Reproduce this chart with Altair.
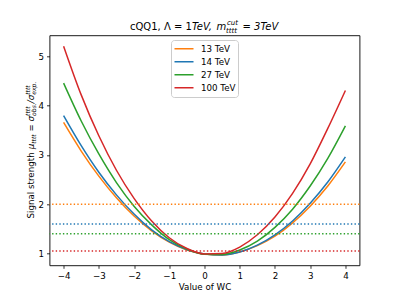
import altair as alt
import pandas as pd

# ---- data ----
wc = [-4.0, -3.5, -3.0, -2.5, -2.0, -1.5, -1.0, -0.5, 0.0, 0.5, 1.0, 1.5, 2.0, 2.5, 3.0, 3.5, 4.0]
mu_13 = [3.66, 3.08, 2.57, 2.13, 1.76, 1.46, 1.23, 1.07, 0.99, 0.97, 1.03, 1.16, 1.35, 1.62, 1.96, 2.37, 2.86]
mu_14 = [3.80, 3.19, 2.65, 2.19, 1.80, 1.48, 1.24, 1.08, 0.99, 0.97, 1.03, 1.17, 1.38, 1.66, 2.02, 2.45, 2.96]
mu_27 = [4.46, 3.69, 3.02, 2.44, 1.96, 1.58, 1.28, 1.09, 0.985, 0.98, 1.07, 1.25, 1.53, 1.90, 2.37, 2.93, 3.59]
mu_100 = [5.21, 4.22, 3.39, 2.69, 2.12, 1.66, 1.32, 1.10, 0.99, 1.00, 1.13, 1.38, 1.74, 2.22, 2.82, 3.54, 4.31]

series = ["13 TeV", "14 TeV", "27 TeV", "100 TeV"]
colors = ["#ff7f0e", "#1f77b4", "#2ca02c", "#d62728"]
limits = [2.0, 1.6, 1.4, 1.05]

x_ticks = [-4, -3, -2, -1, 0, 1, 2, 3, 4]
y_ticks = [1, 2, 3, 4, 5]

rows = []
for name, vals in zip(series, [mu_13, mu_14, mu_27, mu_100]):
    for xv, yv in zip(wc, vals):
        rows.append({"wc": xv, "mu": yv, "energy": name})
df = pd.DataFrame(rows)
df_lim = pd.DataFrame({"limit": limits, "energy": series})

FONT = "DejaVu Sans"
W, H = 310, 230
OX, OY = 49.5, 35.3  # plot origin on page

color_scale = alt.Scale(domain=series, range=colors)

lines = alt.Chart(df).mark_line(strokeWidth=1.5, interpolate="monotone").encode(
    x=alt.X("wc:Q", scale=alt.Scale(domain=[-4.4, 4.4], nice=False, zero=False),
            axis=alt.Axis(values=x_ticks, title="Value of WC",
                          labelExpr="datum.value < 0 ? '\u2212' + format(abs(datum.value), 'd') : format(datum.value, 'd')")),
    y=alt.Y("mu:Q", scale=alt.Scale(domain=[0.76, 5.43], nice=False, zero=False),
            axis=alt.Axis(values=y_ticks, title=None, format="d")),
    color=alt.Color("energy:N", scale=color_scale, sort=series,
                    legend=alt.Legend(title=None, orient="none", legendX=121.5, legendY=4.7,
                                      symbolType="stroke", symbolSize=361, symbolStrokeWidth=1.5,
                                      labelFont=FONT, labelFontSize=8.7, labelColor="#000",
                                      labelOffset=6.5, clipHeight=12.5, rowPadding=0,
                                      padding=2.5, strokeColor="#cccccc",
                                      fillColor="rgba(255,255,255,0.8)", cornerRadius=3)),
    detail="energy:N",
)

rules = alt.Chart(df_lim).mark_rule(strokeWidth=1.4, strokeDash=[1.4, 2.2]).encode(
    y="limit:Q",
    color=alt.Color("energy:N", scale=color_scale, legend=None),
)

def txt(text, x, y, size, italic=False, angle=0):
    kw = dict(text=text, align="left", baseline="alphabetic", font=FONT,
              fontSize=size, color="#000")
    if italic:
        kw["fontStyle"] = "italic"
    if angle:
        kw["angle"] = angle
    return alt.Chart(pd.DataFrame({"a": [0]})).mark_text(**kw).encode(
        x=alt.value(x - OX), y=alt.value(y - OY))

title_parts = [
    txt("cQQ1,", 130, 30, 10),
    txt("\u039b = 1", 164, 30, 10),
    txt("TeV,", 192, 30, 10, italic=True),
    txt("m", 216.5, 30, 10, italic=True),
    txt("cut", 227, 24.8, 7, italic=True),
    txt("tttt", 226, 33.0, 7, italic=True),
    txt("= 3TeV", 242.5, 30, 10, italic=True),
]

yb = 33.5
ytitle_parts = [
    txt("Signal strength", yb, 218.4, 8.7, angle=270),
    txt("\u03bc", yb, 149.3, 8.7, italic=True, angle=270),
    txt("tttt", yb + 2, 143.8, 6.1, italic=True, angle=270),
    txt("= \u03c3", yb, 131.6, 8.7, italic=True, angle=270),
    txt("tttt", yb - 3.5, 115.9, 6.1, italic=True, angle=270),
    txt("obs.", yb + 2.5, 115.9, 6.1, italic=True, angle=270),
    txt("/\u03c3", yb, 103.2, 8.7, italic=True, angle=270),
    txt("tttt", yb - 3.5, 94.8, 6.1, italic=True, angle=270),
    txt("exp.", yb + 2.5, 94.8, 6.1, italic=True, angle=270),
]

chart = alt.layer(lines, rules, *title_parts, *ytitle_parts).properties(
    width=W, height=H,
    autosize=alt.AutoSizeParams(type="none"),
    padding={"left": OX - 8, "top": OY - 8, "right": 30, "bottom": 26},
).configure_view(
    stroke="#000", strokeWidth=0.9
).configure_axis(
    grid=False, domain=False, tickSize=3, tickColor="#000", tickWidth=0.8,
    labelPadding=3, labelFont=FONT, labelFontSize=8.7, labelColor="#000",
    titleFont=FONT, titleFontSize=8.7, titleFontWeight="normal", titleColor="#000",
    titlePadding=3,
)

chart.save("out.html", embed_options={"renderer": "svg", "actions": False})
